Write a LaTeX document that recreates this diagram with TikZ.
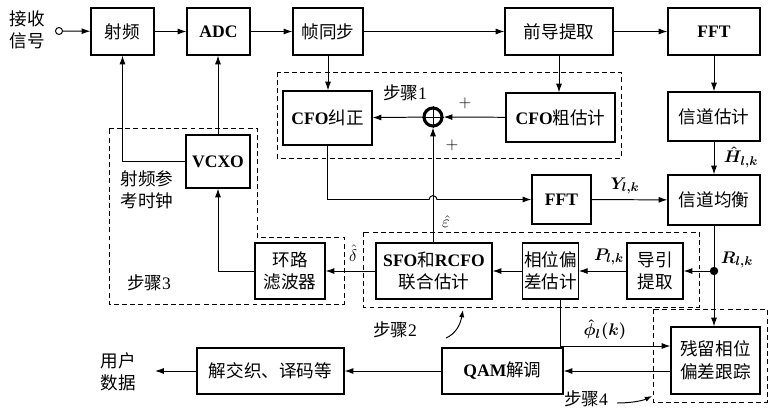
\documentclass[tikz,border=0pt]{standalone}
\usepackage{fontspec}
\usepackage{amsmath}
\usepackage{amssymb}
\usepackage{tikz}
\usetikzlibrary{arrows.meta,positioning}
\setmainfont{Liberation Serif}
\newfontfamily\cjk{Noto Sans CJK SC}
\newcommand{\zw}[1]{{\cjk\mdseries #1}}

\begin{document}
\begin{tikzpicture}[
    x=0.025cm, y=-0.025cm,
    font=\fontsize{12.5}{16}\selectfont,
    blk/.style={draw, line width=.8pt, inner sep=1pt, align=center},
    summer/.style={draw, circle, line width=2.2pt, minimum size=.45cm, inner sep=0pt},
    flow/.style={-{Latex[length=2.2mm,width=1.5mm]}, line width=.7pt},
    pointer/.style={-{Latex[length=1.8mm,width=1.3mm]}, line width=.7pt},
    wire/.style={line width=.7pt},
    stepbox/.style={dash pattern=on 3.5pt off 2.3pt, line width=.7pt},
    lbl/.style={inner sep=0pt, align=center}
  ]
    \useasboundingbox (0,0) rectangle (774,408);

    % top row
    \node[lbl] (rx) at (27,30) {\zw{接收}\\\zw{信号}};
    \node[draw, circle, line width=.7pt, minimum size=5pt, inner sep=0pt] (rxpt) at (59,31) {};
    \node[blk, minimum width=1.575cm, minimum height=1.175cm] (rf) at (122.5,31.5) {\zw{射频}};
    \node[blk, minimum width=1.575cm, minimum height=1.175cm] (adc) at (218.5,31.5) {\textbf{ADC}};
    \node[blk, minimum width=1.75cm, minimum height=1.175cm] (sync) at (328,31.5) {\zw{帧同步}};
    \node[blk, minimum width=2.7cm, minimum height=1.175cm] (pre) at (559,31.5) {\zw{前导提取}};
    \node[blk, minimum width=2.3cm, minimum height=1.175cm] (fft1) at (714,31.5) {\textbf{FFT}};

    % step 1
    \draw[stepbox] (277,72) rectangle (621,158);
    \node[lbl] (s1) at (405,93) {\zw{步骤}1};
    \node[blk, minimum width=2.225cm, minimum height=1.35cm] (cfoc) at (327.5,118) {\textbf{CFO}\zw{纠正}};
    \node[summer] (sum) at (433,117) {};
    \draw[wire] (sum.north) -- (sum.south) (sum.west) -- (sum.east);
    \node[lbl] (p1) at (465,103) {$+$};
    \node[lbl] (p2) at (452,145) {$+$};
    \node[blk, minimum width=2.725cm, minimum height=1.225cm] (cfoe) at (560.5,117.5) {\textbf{CFO}\zw{粗估计}};
    \node[blk, minimum width=2.3cm, minimum height=1.225cm] (chest) at (714,116.5) {\zw{信道估计}};

    % middle row
    \node[blk, minimum width=1.475cm, minimum height=1.225cm] (fft2) at (561.5,199.5) {\textbf{FFT}};
    \node[blk, minimum width=2.3cm, minimum height=1.25cm] (cheq) at (714,200) {\zw{信道均衡}};
    \node[lbl] (hh) at (741,157) {$\boldsymbol{\hat{H}_{l,k}}$};
    \node[lbl] (yy) at (625,186) {$\boldsymbol{Y_{l,k}}$};

    % step 3
    \draw[stepbox] (109,128) -- (257,128) -- (257,237) -- (344,237) -- (344,304) -- (109,304) -- cycle;
    \node[blk, minimum width=1.6cm, minimum height=1.325cm] (vcxo) at (218,161.5) {\textbf{VCXO}};
    \node[lbl, align=left] (ref) at (147,190) {\zw{射频参}\\\zw{考时钟}};
    \node[blk, minimum width=1.75cm, minimum height=1.4cm] (loop) at (290,271) {\zw{环路}\\\zw{滤波器}};
    \node[lbl] (s3) at (149,283) {\zw{步骤}3};
    \node[lbl] (dd) at (353,253) {$\hat{\delta}$};

    % step 2
    \draw[stepbox] (363,232) rectangle (699,307);
    \node[blk, minimum width=2.9cm, minimum height=1.4cm] (sfo) at (434,271) {\textbf{SFO}\zw{和}\textbf{RCFO}\\\zw{联合估计}};
    \node[blk, minimum width=1.375cm, minimum height=1.4cm] (pe) at (550.5,271) {\zw{相位偏}\\\zw{差估计}};
    \node[blk, minimum width=1.4cm, minimum height=1.4cm] (pilot) at (655,271) {\zw{导引}\\\zw{提取}};
    \node[lbl] (ee) at (446,222) {$\hat{\varepsilon}$};
    \node[lbl] (pp) at (609,257) {$\boldsymbol{P_{l,k}}$};
    \node[lbl] (rr) at (737,260) {$\boldsymbol{R_{l,k}}$};
    \node[circle, fill, inner sep=0pt, minimum size=6pt] (jn) at (714,271) {};
    \node[lbl] (s2) at (395,330) {\zw{步骤}2};
    \coordinate (s2tip) at (463,310);

    % step 4 and bottom row
    \draw[stepbox] (653,309) rectangle (767,402);
    \node[blk, minimum width=2.225cm, minimum height=1.675cm] (res) at (715.5,360.5) {\zw{残留相位}\\\zw{偏差跟踪}};
    \node[lbl] (phi) at (605,330) {$\boldsymbol{\hat{\phi}_l(k)}$};
    \node[blk, minimum width=3.025cm, minimum height=1.15cm] (qam) at (502.5,371) {\textbf{QAM}\zw{解调}};
    \node[blk, minimum width=3.675cm, minimum height=1.15cm] (deint) at (270.5,371) {\zw{解交织、译码等}};
    \node[lbl] (user) at (118,372) {\zw{用户}\\\zw{数据}};
    \coordinate (dout) at (155,371);
    \node[lbl] (s4) at (586,399) {\zw{步骤}4};
    \coordinate (s4tip) at (652,396);

    % connectors
    \draw[flow] (rxpt) -- (rf);
    \draw[flow] (rf) -- (adc);
    \draw[flow] (adc) -- (sync);
    \draw[flow] (sync) -- (pre);
    \draw[flow] (pre) -- (fft1);
    \draw[flow] (sync.south) -- (sync.south |- cfoc.north);
    \draw[flow] (pre.south) -- (pre.south |- cfoe.north);
    \draw[flow] (cfoe) -- (sum);
    \draw[flow] (sum) -- (cfoc);
    \draw[flow] (fft1) -- (chest);
    \draw[flow] (chest) -- (cheq);
    \draw[flow] (cfoc.south) -- (cfoc.south |- fft2.west)
      -- ([xshift=-2.8pt]sum |- fft2.west) arc[start angle=180, end angle=0, radius=2.8pt]
      -- (fft2.west);
    \draw[flow] (fft2) -- (cheq);
    \draw[flow] (sum.south |- sfo.north) -- (sum.south);
    \draw[flow] (vcxo.west) -| (rf.south);
    \draw[flow] (vcxo.north) -- (vcxo.north |- adc.south);
    \draw[flow] (loop.west) -| (vcxo.south);
    \draw[flow] (sfo) -- (loop);
    \draw[flow] (pe) -- (sfo);
    \draw[flow] (pilot) -- (pe);
    \draw[flow] (jn) -- (pilot);
    \draw[flow] (cheq.south) -- (cheq.south |- res.north);
    \draw[flow] (pe.south -| 560,0) |- (res.west |- 0,346);
    \draw[flow] (res.west |- qam) -- (qam);
    \draw[flow] (qam) -- (deint);
    \draw[flow] (deint) -- (dout);
    \draw[pointer] (446,338) .. controls (455,334) and (460,326) .. (s2tip);
    \draw[pointer] (617,403) .. controls (630,403) and (642,401) .. (s4tip);
\end{tikzpicture}
\end{document}
